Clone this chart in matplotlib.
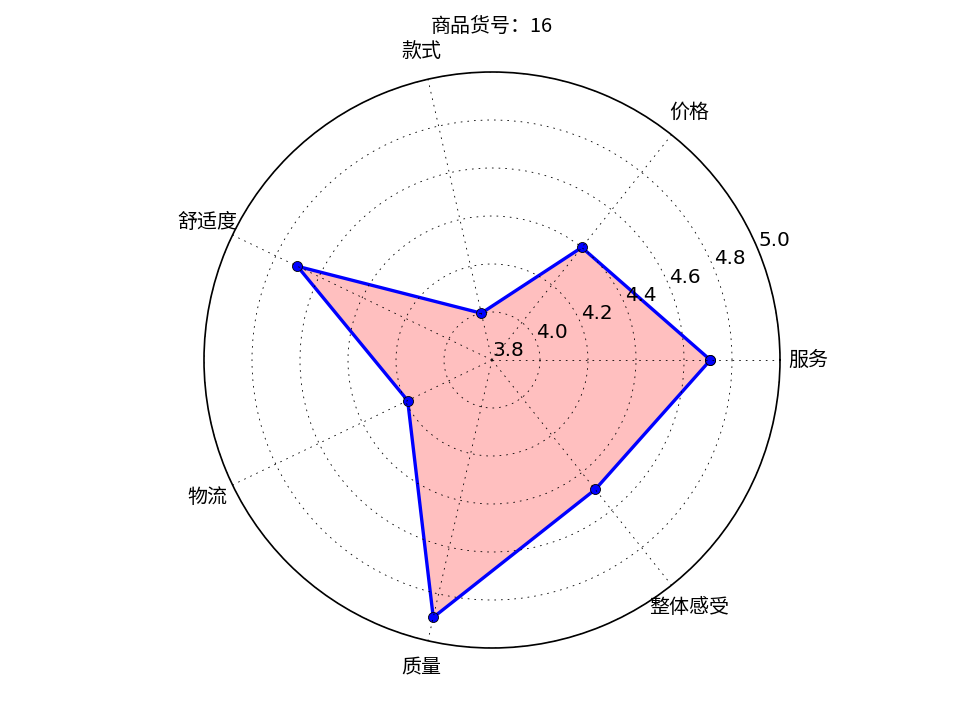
import numpy as np
import matplotlib
matplotlib.use("Agg")
import matplotlib.pyplot as plt

# 评分数据
labels = ["服务", "价格", "款式", "舒适度", "物流", "质量", "整体感受"]
scores = [4.71, 4.40, 4.00, 4.70, 4.19, 4.90, 4.49]
item_id = 16

plt.style.use("classic")
plt.rcParams["font.family"] = ["Noto Sans CJK SC", "DejaVu Sans"]
plt.rcParams["axes.unicode_minus"] = False

n = len(labels)
angles = np.linspace(0, 2 * np.pi, n, endpoint=False)
vals = np.concatenate((scores, [scores[0]]))
angs = np.concatenate((angles, [angles[0]]))

fig = plt.figure(figsize=(8, 6), dpi=120)
ax = fig.add_subplot(111, polar=True)
ax.plot(angs, vals, "bo-", linewidth=2)
ax.fill(angs, vals, facecolor="r", alpha=0.25)
ax.set_thetagrids(angles * 180 / np.pi, labels)
ax.tick_params(axis="x", pad=10)
ax.set_rlim(3.8, 5.0)
ax.set_rgrids([3.8, 4.0, 4.2, 4.4, 4.6, 4.8, 5.0],
              ["3.8", "4.0", "4.2", "4.4", "4.6", "4.8", "5.0"],
              family="DejaVu Sans", fontsize=12)
ax.set_rlabel_position(22.5)
ax.set_title(f"商品货号：{item_id}", fontsize=12, y=1.055)
ax.grid(True)

fig.savefig("out.png", dpi=120)
